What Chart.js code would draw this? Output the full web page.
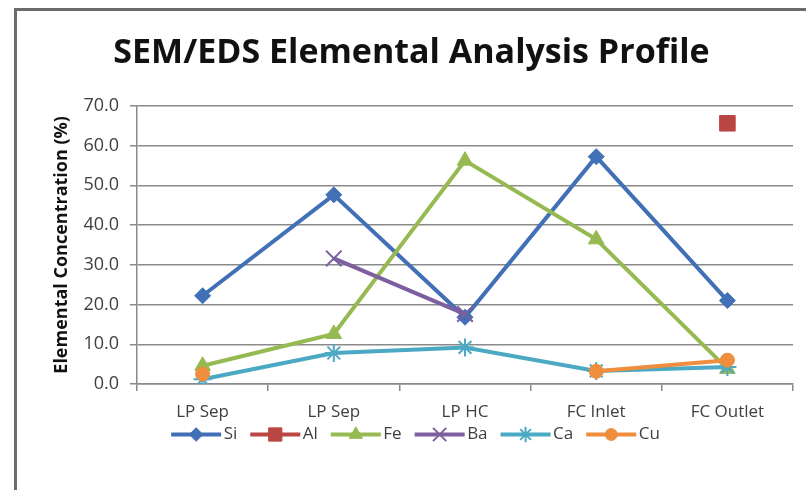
<!DOCTYPE html>
<html>
<head>
<meta charset="utf-8">
<script src="https://cdn.jsdelivr.net/npm/chart.js@4/dist/chart.umd.min.js"></script>
<style>
  html, body { margin: 0; padding: 0; background: #ffffff; }
  #wrap { position: relative; width: 806px; height: 490px; }
</style>
</head>
<body>
<div id="wrap"><canvas id="c" width="806" height="490"></canvas></div>
<script>
const categories = ["LP Sep", "LP Sep", "LP HC", "FC Inlet", "FC Outlet"];
const si = [22.2, 47.6, 16.8, 57.2, 21.0];
const al = [null, null, null, null, 65.6];
const fe = [4.6, 12.6, 56.2, 36.4, 3.8];
const ba = [null, 31.6, 17.6, null, null];
const ca = [1.2, 7.8, 9.2, 3.3, 4.3];
const cu = [2.5, null, null, 3.2, 6.0];
const yTicks = [0, 10, 20, 30, 40, 50, 60, 70];

const FONT = "'Open Sans', 'Liberation Sans', sans-serif";

function mk(label, data, color, style, radius, order, bw) {
  return {
    label: label, data: data, order: order,
    borderColor: color, backgroundColor: color,
    borderWidth: 4, tension: 0, spanGaps: false,
    pointStyle: style, pointRadius: radius, pointHoverRadius: radius,
    pointBackgroundColor: color, pointBorderColor: color, pointBorderWidth: bw
  };
}

const datasets = [
  mk("Si", si, "#4270B6", "rectRot", 8, 6, 1),
  mk("Al", al, "#BA4643", "rect", 11, 5, 1),
  mk("Fe", fe, "#96B951", "triangle", 9, 4, 1),
  mk("Ba", ba, "#7D5FA0", "crossRot", 11, 3, 2),
  mk("Ca", ca, "#4BA9C4", "star", 9, 2, 2),
  mk("Cu", cu, "#EE8E3E", "circle", 7, 1, 1)
];

const BOXW = 52;      // legend box slot (includes leading gap)
const LINE_START = 8; // where the legend line starts inside the slot
const LINE_END = 58;  // where it ends (just before the text)

const framePlugin = {
  id: 'frame',
  beforeDraw(chart) {
    const ctx = chart.ctx;
    ctx.save();
    ctx.strokeStyle = '#6b6b6b';
    ctx.lineWidth = 3;
    ctx.beginPath();
    ctx.moveTo(15.5, 490);
    ctx.lineTo(15.5, 9.5);
    ctx.lineTo(806, 9.5);
    ctx.stroke();
    ctx.restore();
  }
};

const legendLines = {
  id: 'legendLines',
  afterDraw(chart) {
    const lg = chart.legend;
    if (!lg || !lg.legendHitBoxes) return;
    const ctx = chart.ctx;
    lg.legendHitBoxes.forEach((hb, i) => {
      const ds = chart.data.datasets[i];
      const y = hb.top + hb.height / 2;
      ctx.save();
      ctx.strokeStyle = ds.borderColor;
      ctx.lineWidth = 4;
      ctx.beginPath();
      ctx.moveTo(hb.left + LINE_START, y);
      ctx.lineTo(hb.left + LINE_END, y);
      ctx.stroke();
      ctx.fillStyle = ds.pointBackgroundColor;
      ctx.strokeStyle = ds.pointBorderColor;
      ctx.lineWidth = ds.pointBorderWidth;
      Chart.helpers.drawPoint(ctx, {
        pointStyle: ds.pointStyle,
        radius: ds.pointRadius * 0.85,
        rotation: 0,
        borderWidth: ds.pointBorderWidth
      }, hb.left + (LINE_START + LINE_END) / 2, y);
      ctx.restore();
    });
  }
};

new Chart(document.getElementById('c'), {
  type: 'line',
  data: { labels: categories, datasets: datasets },
  plugins: [framePlugin, legendLines],
  options: {
    responsive: false,
    animation: false,
    devicePixelRatio: 1,
    layout: { padding: { left: 20, right: 3, top: 0, bottom: 37 } },
    plugins: {
      tooltip: { enabled: false },
      title: {
        display: true,
        text: "SEM/EDS Elemental Analysis Profile",
        color: '#111111',
        font: { family: FONT, size: 34, weight: 'bold' },
        padding: { top: 33, bottom: 32 }
      },
      legend: {
        display: true,
        position: 'bottom',
        labels: {
          boxWidth: BOXW,
          boxHeight: 17,
          padding: 5,
          color: '#404040',
          font: { family: FONT, size: 17 },
          generateLabels(chart) {
            return chart.data.datasets.map((ds, i) => ({
              text: ds.label,
              fillStyle: 'rgba(0,0,0,0)',
              strokeStyle: 'rgba(0,0,0,0)',
              lineWidth: 0,
              hidden: false,
              datasetIndex: i,
              fontColor: '#404040'
            }));
          }
        }
      }
    },
    scales: {
      x: {
        type: 'category',
        offset: true,
        afterFit(scale) { scale.height = 37; },
        grid: {
          offset: true,
          drawOnChartArea: false,
          drawTicks: true,
          tickLength: 7,
          color: '#8a8a8a',
          lineWidth: 1.5
        },
        border: { display: true, color: '#8a8a8a', width: 1.5 },
        ticks: {
          color: '#404040',
          padding: 11,
          maxRotation: 0,
          autoSkip: false,
          font: { family: FONT, size: 17 }
        }
      },
      y: {
        min: 0, max: 70,
        afterFit(scale) { scale.width = 117; },
        afterBuildTicks(scale) { scale.ticks = yTicks.map(v => ({ value: v })); },
        grid: {
          color: '#8a8a8a',
          lineWidth: 1.5,
          tickLength: 7
        },
        border: { display: true, color: '#8a8a8a', width: 1.5 },
        ticks: {
          color: '#404040',
          padding: 11,
          font: { family: FONT, size: 18 },
          callback: (v) => Number(v).toFixed(1)
        },
        title: {
          display: true,
          text: "Elemental Concentration (%)",
          color: '#111111',
          font: { family: FONT, size: 18, weight: 'bold' },
          padding: { top: 31, bottom: 0 }
        }
      }
    }
  }
});
</script>
</body>
</html>
